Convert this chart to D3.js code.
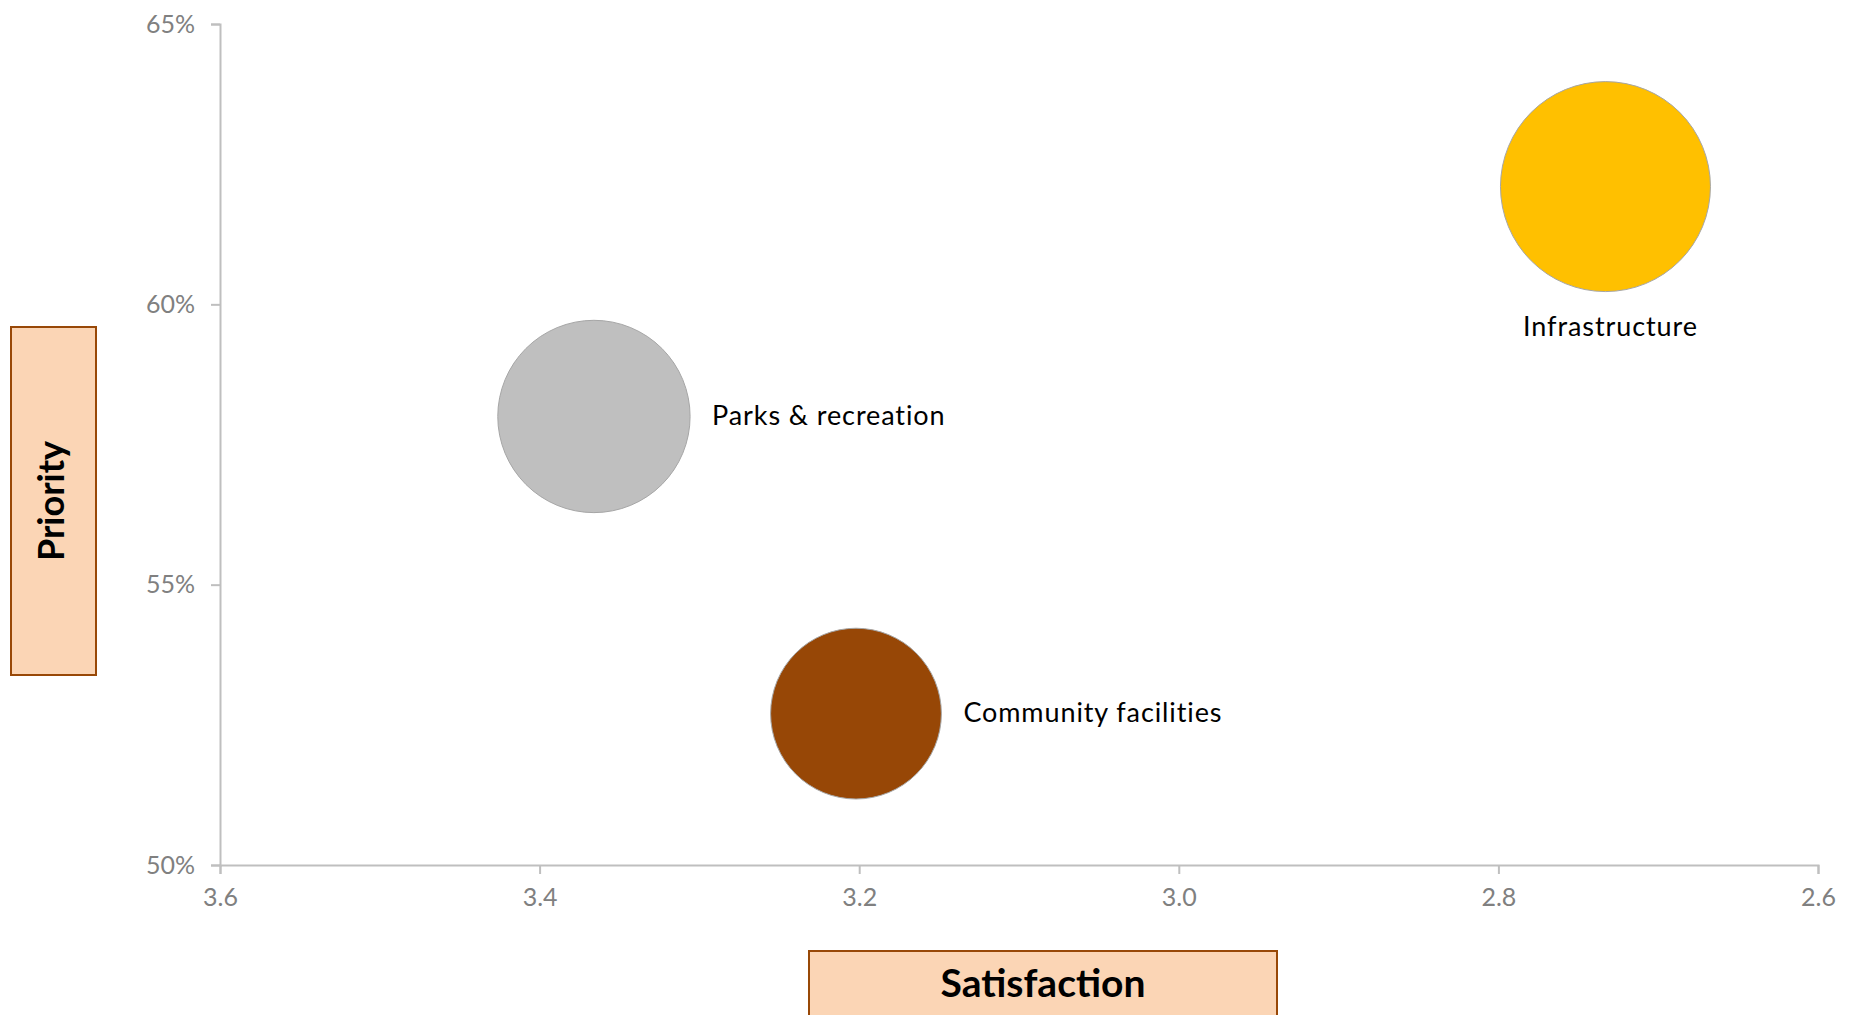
<!DOCTYPE html>
<html>
<head>
<meta charset="utf-8">
<script src="https://cdn.jsdelivr.net/npm/d3@7"></script>
<style>
    body { margin: 0; background: white; }
    svg { display: block; }
</style>
</head>
<body>
<svg id="chart"></svg>
<script>
// chart data
const categories = ["Infrastructure", "Parks & recreation", "Community facilities"];
const satisfaction = [2.733, 3.366, 3.202];
const priority = [0.621, 0.580, 0.527];
const bubble_size = [62, 52, 41];
const x_ticks = [3.6, 3.4, 3.2, 3.0, 2.8, 2.6];
const y_ticks = [0.50, 0.55, 0.60, 0.65];

document.addEventListener('DOMContentLoaded', () => {
    const width = 1857;
    const height = 1015;
    const font = "Lato, 'DejaVu Sans', sans-serif";
    const axis_color = "#bfbfbf";
    const tick_color = "#808080";
    const colors = ["#ffc000", "#bfbfbf", "#974706"];
    // where each bubble label sits relative to its bubble
    const label_pos = ["below", "right", "right"];

    const svg = d3.select("#chart")
                  .attr("width", width)
                  .attr("height", height);

    const x = d3.scaleLinear().domain([3.6, 2.6]).range([220, 1818]);
    const y = d3.scaleLinear().domain([0.50, 0.65]).range([865, 24]);
    const r = d3.scaleSqrt().domain([0, d3.max(bubble_size)]).range([0, 105]);

    // x axis
    const xAxis = svg.append("g")
        .attr("transform", `translate(0,${y(0.50)})`)
        .call(d3.axisBottom(x).tickValues(x_ticks).tickFormat(d3.format(".1f"))
              .tickSizeInner(9).tickSizeOuter(9).tickPadding(14));
    // y axis
    const yAxis = svg.append("g")
        .attr("transform", `translate(${x(3.6)},0)`)
        .call(d3.axisLeft(y).tickValues(y_ticks).tickFormat(d3.format(".0%"))
              .tickSizeInner(9).tickSizeOuter(9).tickPadding(16));

    [xAxis, yAxis].forEach(function(a) {
        a.select(".domain").attr("stroke", axis_color).attr("stroke-width", 2);
        a.selectAll(".tick line").attr("stroke", axis_color).attr("stroke-width", 2);
        a.selectAll(".tick text")
         .attr("fill", tick_color)
         .style("font-family", font)
         .style("font-size", "25px");
    });

    // bubbles
    svg.selectAll("circle.bubble")
        .data(categories)
        .enter()
        .append("circle")
        .attr("class", "bubble")
        .attr("cx", (d, i) => x(satisfaction[i]))
        .attr("cy", (d, i) => y(priority[i]))
        .attr("r", (d, i) => r(bubble_size[i]))
        .attr("fill", (d, i) => colors[i])
        .attr("stroke", "#a6a6a6")
        .attr("stroke-width", 1);

    // bubble labels
    svg.selectAll("text.label")
        .data(categories)
        .enter()
        .append("text")
        .attr("class", "label")
        .attr("x", (d, i) => label_pos[i] == "below" ? x(satisfaction[i]) + 5 : x(satisfaction[i]) + r(bubble_size[i]) + 22)
        .attr("y", (d, i) => label_pos[i] == "below" ? y(priority[i]) + r(bubble_size[i]) + 38 : y(priority[i]) + 2)
        .attr("text-anchor", (d, i) => label_pos[i] == "below" ? "middle" : "start")
        .attr("dominant-baseline", "middle")
        .style("font-family", font)
        .style("font-size", "27px")
        .style("letter-spacing", "0.9px")
        .attr("fill", "#000")
        .text(d => d);

    // axis title boxes
    svg.append("rect")
        .attr("x", 809).attr("y", 951)
        .attr("width", 468).attr("height", 80)
        .attr("fill", "#fbd5b5")
        .attr("stroke", "#984807")
        .attr("stroke-width", 2);
    svg.append("text")
        .attr("x", 1043).attr("y", 987)
        .attr("text-anchor", "middle")
        .attr("dominant-baseline", "middle")
        .style("font-family", font)
        .style("font-size", "39px")
        .style("font-weight", "bold")
        .text("Satisfaction");

    svg.append("rect")
        .attr("x", 11).attr("y", 327)
        .attr("width", 85).attr("height", 348)
        .attr("fill", "#fbd5b5")
        .attr("stroke", "#984807")
        .attr("stroke-width", 2);
    svg.append("text")
        .attr("transform", "translate(55,501) rotate(-90)")
        .attr("text-anchor", "middle")
        .attr("dominant-baseline", "middle")
        .style("font-family", font)
        .style("font-size", "36px")
        .style("font-weight", "bold")
        .text("Priority");
});
</script>
</body>
</html>
